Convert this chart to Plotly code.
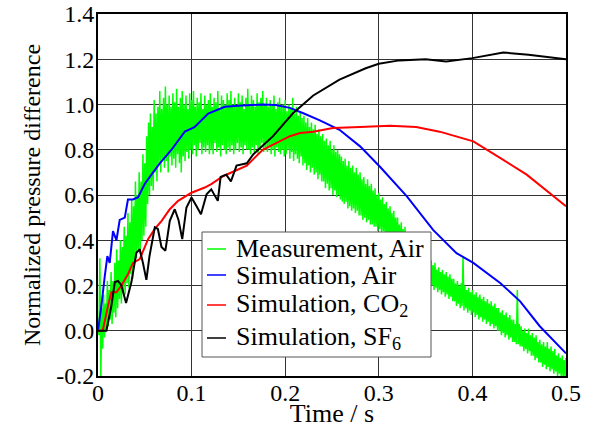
import plotly.graph_objects as go

# simulation curves
tAir = [0, 0.0036, 0.0072, 0.010, 0.0125, 0.016, 0.0197, 0.0232, 0.0286, 0.032, 0.0374, 0.0428,
        0.05, 0.0588, 0.066, 0.0785, 0.0927, 0.103, 0.1177, 0.1355, 0.15, 0.176, 0.19, 0.205,
        0.22, 0.237, 0.258, 0.28, 0.301, 0.33, 0.358, 0.383, 0.401, 0.43, 0.451, 0.472, 0.5]
simAir = [0, 0.11, 0.24, 0.33, 0.30, 0.44, 0.40, 0.49, 0.50, 0.58, 0.58, 0.59,
          0.65, 0.70, 0.74, 0.80, 0.88, 0.90, 0.96, 0.99, 0.995, 1.0, 0.998, 0.985,
          0.96, 0.93, 0.888, 0.815, 0.726, 0.594, 0.446, 0.343, 0.30, 0.21, 0.13, 0.02, -0.10]

tCO2 = [0, 0.005, 0.0107, 0.0143, 0.0197, 0.025, 0.032, 0.0374, 0.0446, 0.0535, 0.0607, 0.068,
        0.0767, 0.0856, 0.0999, 0.114, 0.121, 0.134, 0.159, 0.176, 0.205, 0.216, 0.23, 0.251,
        0.28, 0.312, 0.34, 0.365, 0.401, 0.43, 0.458, 0.5]
simCO2 = [0, 0, 0.11, 0.17, 0.17, 0.20, 0.25, 0.30, 0.317, 0.405, 0.45, 0.486,
          0.537, 0.574, 0.61, 0.633, 0.648, 0.684, 0.73, 0.80, 0.86, 0.874, 0.88, 0.896,
          0.90, 0.906, 0.90, 0.88, 0.837, 0.763, 0.69, 0.55]

tSF6 = [0, 0.009, 0.0143, 0.018, 0.0214, 0.025, 0.030, 0.0357, 0.041, 0.0446, 0.048, 0.0517,
        0.055, 0.0607, 0.064, 0.0678, 0.072, 0.0767, 0.082, 0.086, 0.090, 0.0945, 0.0999, 0.105,
        0.110, 0.116, 0.121, 0.128, 0.131, 0.137, 0.142, 0.148, 0.159, 0.166, 0.187, 0.208,
        0.23, 0.258, 0.286, 0.30, 0.322, 0.35, 0.372, 0.40, 0.433, 0.46, 0.5]
simSF6 = [0, 0, 0.11, 0.215, 0.22, 0.20, 0.123, 0.215, 0.345, 0.36, 0.30, 0.225,
          0.33, 0.457, 0.45, 0.37, 0.354, 0.486, 0.537, 0.49, 0.405, 0.545, 0.589, 0.552,
          0.515, 0.603, 0.625, 0.574, 0.68, 0.69, 0.66, 0.73, 0.74, 0.78, 0.86, 0.96,
          1.04, 1.11, 1.16, 1.18, 1.195, 1.20, 1.19, 1.205, 1.23, 1.22, 1.2]

# measurement: top / bottom of the noisy band, every 2 ms from 0 to 0.5 s
measDt = 0.002
measHigh = [
    0.03, 0.32, 0.10, 0.16, 0.12, 0.22, 0.18, 0.26, 0.22, 0.30,
    0.36, 0.31, 0.40, 0.37, 0.46, 0.42, 0.52, 0.48, 0.58, 0.55,
    0.66, 0.60, 0.70, 0.66, 0.78, 0.74, 0.86, 0.92, 0.96, 0.90,
    1.02, 0.96, 0.99, 1.06, 0.98, 1.03, 1.08, 1.00, 1.04, 0.99,
    1.05, 1.01, 1.07, 0.99, 1.03, 1.06, 1.00, 1.04, 0.98, 1.05,
    1.02, 1.06, 0.99, 1.03, 1.01, 1.05, 0.98, 1.04, 1.00, 1.02,
    1.05, 0.99, 1.03, 1.01, 1.06, 0.98, 1.04, 1.02, 1.00, 1.05,
    1.02, 1.06, 1.00, 1.03, 0.99, 1.05, 1.01, 1.04, 0.98, 1.03,
    1.07, 1.00, 1.04, 1.02, 0.99, 1.05, 1.01, 1.03, 1.06, 1.00,
    1.03, 0.99, 1.02, 1.00, 1.04, 0.98, 1.01, 1.03, 0.99, 1.00,
    1.02, 0.97, 1.00, 0.98, 1.03, 0.96, 0.99, 0.95, 0.97, 0.94,
    0.95, 0.92, 0.94, 0.90, 0.92, 0.89, 0.91, 0.87, 0.89, 0.86,
    0.87, 0.84, 0.85, 0.82, 0.84, 0.80, 0.82, 0.79, 0.80, 0.78,
    0.77, 0.75, 0.76, 0.73, 0.75, 0.72, 0.73, 0.70, 0.72, 0.69,
    0.70, 0.67, 0.68, 0.65, 0.67, 0.64, 0.65, 0.62, 0.63, 0.60,
    0.61, 0.58, 0.59, 0.56, 0.57, 0.54, 0.55, 0.52, 0.53, 0.50,
    0.50, 0.47, 0.48, 0.45, 0.46, 0.42, 0.43, 0.40, 0.41, 0.38,
    0.38, 0.35, 0.36, 0.33, 0.34, 0.31, 0.32, 0.30, 0.31, 0.29,
    0.30, 0.27, 0.28, 0.26, 0.27, 0.25, 0.26, 0.24, 0.25, 0.23,
    0.23, 0.21, 0.22, 0.20, 0.21, 0.33, 0.20, 0.18, 0.19, 0.17,
    0.18, 0.16, 0.17, 0.15, 0.16, 0.14, 0.15, 0.13, 0.14, 0.12,
    0.13, 0.11, 0.12, 0.10, 0.10, 0.08, 0.09, 0.07, 0.08, 0.06,
    0.07, 0.05, 0.05, 0.03, 0.18, 0.03, 0.02, 0.00, 0.01, -0.01,
    0.01, -0.02, -0.01, -0.03, -0.02, -0.05, -0.04, -0.06, -0.05, -0.07,
    -0.05, -0.08, -0.07, -0.09, -0.08, -0.11, -0.10, -0.12, -0.11, -0.13, -0.12]
measLow = [
    -0.02, -0.20, -0.08, -0.03, 0.00, 0.02, 0.05, 0.03, 0.08, 0.06,
    0.10, 0.14, 0.12, 0.17, 0.16, 0.21, 0.19, 0.25, 0.23, 0.30,
    0.32, 0.36, 0.34, 0.40, 0.42, 0.46, 0.56, 0.60, 0.64, 0.62,
    0.70, 0.66, 0.74, 0.70, 0.76, 0.72, 0.75, 0.70, 0.77, 0.73,
    0.76, 0.72, 0.78, 0.74, 0.70, 0.77, 0.75, 0.79, 0.76, 0.80,
    0.78, 0.82, 0.77, 0.80, 0.83, 0.78, 0.81, 0.79, 0.82, 0.78,
    0.80, 0.78, 0.83, 0.79, 0.81, 0.77, 0.82, 0.80, 0.78, 0.81,
    0.79, 0.82, 0.78, 0.80, 0.83, 0.79, 0.81, 0.78, 0.82, 0.80,
    0.80, 0.78, 0.81, 0.79, 0.82, 0.78, 0.80, 0.83, 0.79, 0.81,
    0.79, 0.81, 0.78, 0.80, 0.77, 0.81, 0.79, 0.78, 0.80, 0.77,
    0.78, 0.80, 0.76, 0.79, 0.75, 0.78, 0.76, 0.74, 0.77, 0.73,
    0.74, 0.71, 0.73, 0.70, 0.72, 0.69, 0.70, 0.67, 0.69, 0.66,
    0.66, 0.63, 0.65, 0.62, 0.63, 0.60, 0.62, 0.59, 0.60, 0.58,
    0.57, 0.56, 0.57, 0.54, 0.55, 0.53, 0.54, 0.52, 0.53, 0.51,
    0.51, 0.49, 0.50, 0.48, 0.49, 0.47, 0.47, 0.46, 0.46, 0.44,
    0.45, 0.43, 0.44, 0.41, 0.42, 0.39, 0.40, 0.37, 0.38, 0.36,
    0.36, 0.33, 0.34, 0.31, 0.32, 0.29, 0.30, 0.27, 0.28, 0.25,
    0.25, 0.23, 0.24, 0.21, 0.22, 0.20, 0.21, 0.19, 0.20, 0.18,
    0.19, 0.17, 0.18, 0.16, 0.17, 0.15, 0.16, 0.14, 0.15, 0.13,
    0.13, 0.11, 0.12, 0.10, 0.11, 0.09, 0.10, 0.08, 0.09, 0.07,
    0.08, 0.06, 0.07, 0.05, 0.06, 0.04, 0.05, 0.03, 0.04, 0.02,
    0.03, 0.01, 0.02, 0.00, 0.00, -0.02, -0.01, -0.03, -0.02, -0.04,
    -0.03, -0.05, -0.05, -0.06, -0.06, -0.07, -0.07, -0.09, -0.08, -0.10,
    -0.09, -0.11, -0.11, -0.13, -0.12, -0.14, -0.14, -0.16, -0.15, -0.17,
    -0.16, -0.18, -0.17, -0.19, -0.18, -0.20, -0.19, -0.21, -0.20, -0.21, -0.20]

xTicks = [0, 0.1, 0.2, 0.3, 0.4, 0.5]
xTickText = ['0', '0.1', '0.2', '0.3', '0.4', '0.5']
yTicks = [-0.2, 0.0, 0.2, 0.4, 0.6, 0.8, 1.0, 1.2, 1.4]
yTickText = ['-0.2', '0.0', '0.2', '0.4', '0.6', '0.8', '1.0', '1.2', '1.4']

names = ['Measurement, Air', 'Simulation, Air', 'Simulation, CO<sub>2</sub>', 'Simulation, SF<sub>6</sub>']
colors = ['#00ff00', '#0000ff', '#ff0000', '#000000']
widths = [1.5, 2, 2, 2]

# zig-zag between the two edges so the noise fills the band
tMeas = []
meas = []
for i in range(len(measHigh)):
    tMeas += [i * measDt, i * measDt + measDt / 2]
    meas += [measHigh[i], measLow[i]]

W, H = 594, 428
mL, mR, mT, mB = 98, 28, 14, 52
fontName = 'Liberation Serif'


def px2paper(px, py):
    return (px - mL) / (W - mL - mR), (H - mB - py) / (H - mT - mB)


fig = go.Figure()
series = [(tMeas, meas), (tAir, simAir), (tCO2, simCO2), (tSF6, simSF6)]
for i in range(len(series)):
    fig.add_trace(go.Scatter(x=series[i][0], y=series[i][1], mode='lines', name=names[i],
                             line=dict(color=colors[i], width=widths[i], simplify=False),
                             showlegend=False, hoverinfo='skip'))

# legend box drawn by hand so its rows sit as tight as in the original
x0, y0 = px2paper(202, 232)
x1, y1 = px2paper(431, 357)
fig.add_shape(type='rect', xref='paper', yref='paper', x0=x0, y0=y0, x1=x1, y1=y1,
              fillcolor='white', line=dict(color='#555555', width=1), layer='above')
rowY = [249, 275, 305, 338]
rowH = [25, 25, 30, 30]
for i in range(len(names)):
    lx0, ly = px2paper(207, rowY[i])
    lx1, _ = px2paper(226, rowY[i])
    fig.add_shape(type='line', xref='paper', yref='paper', x0=lx0, x1=lx1, y0=ly, y1=ly,
                  line=dict(color=colors[i], width=min(widths[i], 1.5)), layer='above')
    tx, _ = px2paper(235, rowY[i])
    fig.add_annotation(xref='paper', yref='paper', x=tx, y=ly, text=names[i],
                       showarrow=False, xanchor='left', yanchor='middle', height=rowH[i],
                       borderpad=0, font=dict(size=26, family=fontName, color='black'))

fig.update_layout(
    width=W, height=H,
    margin=dict(l=mL, r=mR, t=mT, b=mB),
    paper_bgcolor='white', plot_bgcolor='white',
    font=dict(family=fontName, size=24, color='black'),
    showlegend=False,
)
fig.update_xaxes(range=[0, 0.5], tickvals=xTicks, ticktext=xTickText,
                 showgrid=True, gridcolor='#333333', gridwidth=1,
                 showline=True, linecolor='black', linewidth=2, mirror=True,
                 zeroline=False, ticks='', automargin=False, ticklabelstandoff=-6,
                 title=dict(text='Time / s', font=dict(size=26), standoff=5))
fig.update_yaxes(range=[-0.2, 1.4], tickvals=yTicks, ticktext=yTickText,
                 showgrid=True, gridcolor='#333333', gridwidth=1,
                 showline=True, linecolor='black', linewidth=2, mirror=True,
                 zeroline=False, ticks='', automargin=False, ticklabelstandoff=-3,
                 title=dict(text='Normalized pressure difference', font=dict(size=24), standoff=9))

# the page's default 8px body margin would push the chart off the window
fig.write_html("out.html", config={'displayModeBar': False},
               post_script="document.body.style.margin='0';")
